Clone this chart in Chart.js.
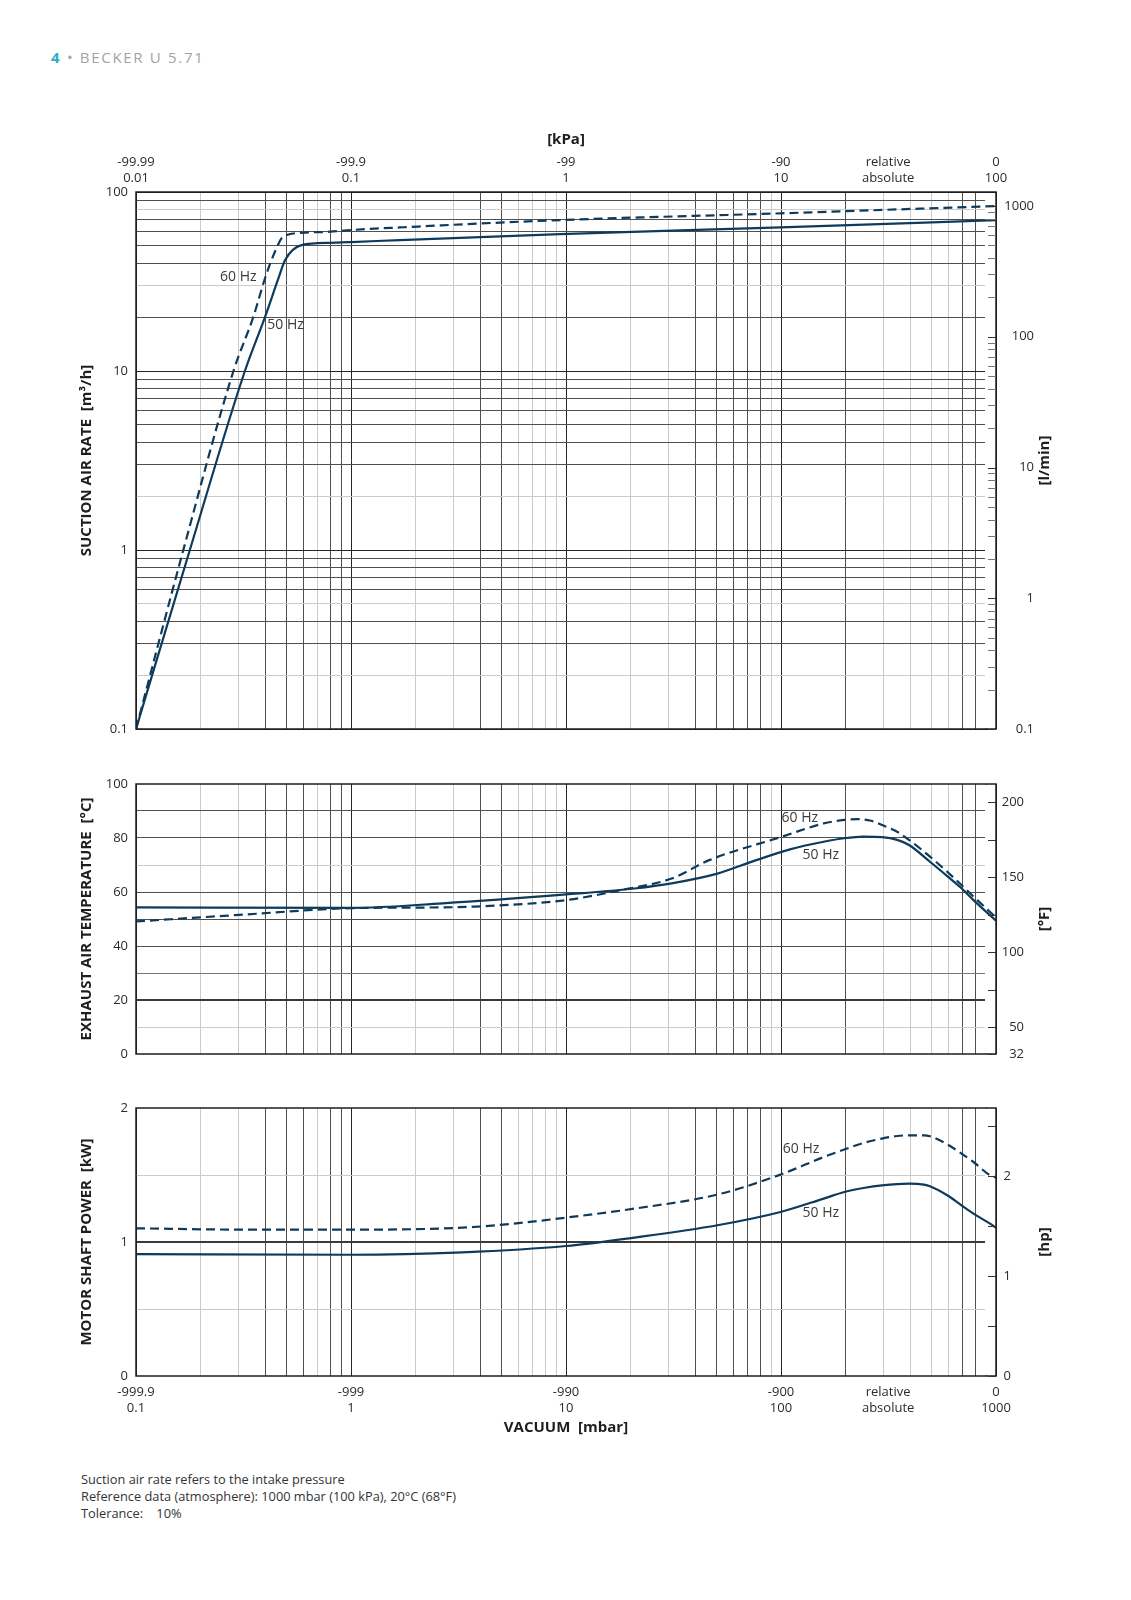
<!DOCTYPE html>
<html>
<head>
<meta charset="utf-8">
<script src="https://cdn.jsdelivr.net/npm/chart.js@4.4.1/dist/chart.umd.min.js"></script>
<style>
  body { margin: 0; background: #fff; width: 1131px; height: 1600px; position: relative; font-family: "Open Sans", sans-serif; }
  canvas { position: absolute; left: 0; }
  #header { position: absolute; left: 51px; top: 47px; font-size: 15px; letter-spacing: 1.7px; color: #a3a3a3; white-space: pre; }
  #header .page { color: #2aaec3; font-weight: bold; }
  #notes { position: absolute; left: 81px; top: 1471px; font-size: 12.8px; line-height: 17px; color: #333; }
</style>
</head>
<body>
<div id="header"><span class="page">4</span> • BECKER U 5.71</div>
<canvas id="flowChart" width="1131" height="645" style="top:100px"></canvas>
<canvas id="tempChart" width="1131" height="302" style="top:768px"></canvas>
<canvas id="powerChart" width="1131" height="356" style="top:1090px"></canvas>
<div id="notes">Suction air rate refers to the intake pressure<br>Reference data (atmosphere): 1000 mbar (100 kPa), 20°C (68°F)<br>Tolerance:&nbsp;&nbsp;&nbsp; 10%</div>
<script>
// x axis: absolute pressure in mbar, labelled positions
const pressureTicks = [0.1, 1, 10, 100, 315, 1000];
const vacuumLabels = [["-999.9", "0.1"], ["-999", "1"], ["-990", "10"], ["-900", "100"], ["relative", "absolute"], ["0", "1000"]];
const kpaLabels = [["-99.99", "0.01"], ["-99.9", "0.1"], ["-99", "1"], ["-90", "10"], ["relative", "absolute"], ["0", "100"]];

// suction air rate [m3/h]
const flowPressure50 = [0.1, 0.178, 0.321, 0.398, 0.46, 0.494, 0.589, 0.8, 1, 1.69, 9.4, 100, 1000];
const flow50 = [0.1, 1, 10, 20, 33, 41.7, 50.5, 52, 52.5, 53.9, 58.2, 63.4, 69.7];
const flowPressure60 = [0.1, 0.166, 0.284, 0.351, 0.4, 0.445, 0.483, 0.6, 0.8, 1, 1.69, 9.4, 100, 1000];
const flow60 = [0.1, 1, 10, 20, 33.5, 47, 56.2, 59.2, 60, 61.3, 63.4, 69.7, 76, 83.5];

// exhaust air temperature [°C]
const tempPressure50 = [0.1, 1, 2.67, 10, 20.8, 31, 50.6, 70.6, 110, 158, 197, 242, 295, 347, 394, 493, 593, 691, 786, 1000];
const temp50 = [54.3, 54.1, 55.8, 59.1, 61.3, 63.2, 66.8, 70.8, 75.8, 78.6, 79.9, 80.5, 80.3, 79.3, 77.4, 71.2, 65.9, 61.4, 57, 49.4];
const tempPressure60 = [0.1, 0.3, 1, 2.67, 3.76, 10, 18, 31, 46.7, 99.5, 158, 197, 226, 262, 295, 347, 394, 493, 593, 691, 786, 1000];
const temp60 = [49.1, 51.5, 54, 54.3, 54.6, 57, 60.7, 65, 71.9, 80.3, 85.4, 86.7, 87, 86.4, 84.8, 82.3, 79.3, 73.1, 67.5, 62.6, 58.3, 50.6];

// motor shaft power [kW]
const powerPressure50 = [0.1, 1, 3.3, 10, 20.8, 50.6, 99.5, 158, 197, 242, 295, 394, 463, 493, 593, 691, 786, 938, 1000];
const power50 = [0.91, 0.905, 0.923, 0.97, 1.033, 1.125, 1.224, 1.324, 1.373, 1.403, 1.423, 1.436, 1.428, 1.416, 1.349, 1.274, 1.212, 1.137, 1.107];
const powerPressure60 = [0.1, 0.34, 1, 3.3, 5.5, 10, 20.8, 50.6, 99.5, 158, 197, 242, 295, 347, 394, 463, 493, 593, 691, 786, 938, 1000];
const power60 = [1.102, 1.092, 1.092, 1.107, 1.135, 1.182, 1.249, 1.354, 1.503, 1.634, 1.69, 1.739, 1.772, 1.791, 1.796, 1.796, 1.789, 1.729, 1.66, 1.597, 1.498, 1.481];

// curve names: [text, pressure, value]
const flowNames = [["60 Hz", 0.246, 33.4], ["50 Hz", 0.408, 18]];
const tempNames = [["60 Hz", 100.6, 87.4], ["50 Hz", 126, 73.7]];
const powerNames = [["60 Hz", 102, 1.692], ["50 Hz", 126, 1.214]];

// secondary axes
const lpmMax = 1280;              // l/min scale as printed
const fahrenheitTicks = [32, 50, 75, 100, 125, 150, 175, 200];
const fahrenheitLabels = [32, 50, 100, 150, 200];
const hpMax = 2 / 0.7457;
const hpTicks = [0, 0.5, 1, 1.5, 2, 2.5];

const CURVE = "#0e3a5c";
const DECADE = "#262626";
const DARK = "#505050";
const LIGHT = "#cbcbcb";
const darkPressureLines = [0.4, 0.5, 0.6, 0.8, 0.9, 4, 5, 40, 50, 60, 70, 80, 200, 700, 800, 900];
const lightFlowLines = [0.2, 0.5, 2, 30, 80];

Chart.defaults.font.family = "'Open Sans', sans-serif";
Chart.defaults.color = "#2b2b2b";

function decadeValues(minExp, maxExp) {
  const out = [];
  for (let k = minExp; k < maxExp; k++) {
    for (let m = 1; m <= 9; m++) out.push(+(m + "e" + k));
  }
  out.push(+("1e" + maxExp));
  return out;
}

function isDecade(v) {
  const l = Math.log10(v);
  return Math.abs(l - Math.round(l)) < 1e-9;
}

function points(xs, ys) {
  return xs.map((x, i) => ({ x: x, y: ys[i] }));
}

const tickFont = { size: 13, lineHeight: "16px" };
const titleFont = { size: 15, weight: "bold" };

function pressureAxis(position, labels, height, padding, title) {
  const gridValues = decadeValues(-1, 3).concat([315]).sort((a, b) => a - b);
  return {
    type: "logarithmic",
    position: position,
    min: 0.1,
    max: 1000,
    afterBuildTicks: (scale) => {
      scale.ticks = gridValues.map((v) => ({ value: v }));
    },
    afterFit: (scale) => { scale.height = height; },
    border: { display: false },
    grid: {
      drawTicks: false,
      color: (ctx) => {
        const v = ctx.tick.value;
        if (v === 315) return "rgba(0,0,0,0)";
        if (isDecade(v)) return DECADE;
        return darkPressureLines.includes(v) ? DARK : LIGHT;
      },
    },
    ticks: {
      display: labels !== null,
      autoSkip: false,
      maxRotation: 0,
      minRotation: 0,
      padding: padding,
      font: tickFont,
      callback: (value) => {
        const i = pressureTicks.indexOf(value);
        return i >= 0 && labels ? labels[i] : "";
      },
    },
    title: title,
  };
}

function leftTitle(text) {
  return { display: true, text: text, font: titleFont, color: "#1e1e1e", padding: { top: 78, bottom: 0 } };
}

// right axis: labels are right-aligned on the scale's outer edge
function rightAxis(extra, width) {
  return Object.assign({
    position: "right",
    afterFit: (scale) => { scale.width = width; },
    border: { display: false },
    grid: { drawOnChartArea: false, drawTicks: false },
  }, extra);
}

function curveSets(p50, v50, p60, v60) {
  const base = { borderColor: CURVE, borderWidth: 2.2, pointRadius: 0, fill: false, cubicInterpolationMode: "monotone" };
  return [
    Object.assign({ label: "50 Hz", data: points(p50, v50) }, base),
    Object.assign({ label: "60 Hz", data: points(p60, v60), borderDash: [9, 5] }, base),
  ];
}

function panelDecor(names, rightTitle) {
  return {
    id: "panelDecor",
    beforeDatasetsDraw(chart) {
      // grid lines stop short of the right frame, leaving room for the inner ticks
      const { ctx, chartArea: a } = chart;
      ctx.save();
      ctx.fillStyle = "#fff";
      ctx.fillRect(a.right - 11, a.top + 1, 11, a.bottom - a.top - 2);
      ctx.restore();
    },
    afterDatasetsDraw(chart) {
      const { ctx, chartArea: a, scales } = chart;
      ctx.save();
      ctx.strokeStyle = "#1e1e1e";
      ctx.lineWidth = 1.5;
      ctx.strokeRect(a.left, a.top, a.right - a.left, a.bottom - a.top);

      const r = scales.y2;
      ctx.lineWidth = 1;
      r.ticks.forEach((t) => {
        const y = Math.round(r.getPixelForValue(t.value)) + 0.5;
        ctx.strokeStyle = r.type === "logarithmic" && !isDecade(t.value) ? "#777" : "#333";
        ctx.beginPath();
        ctx.moveTo(a.right - 8, y);
        ctx.lineTo(a.right, y);
        ctx.stroke();
      });

      ctx.font = "14px 'Open Sans', sans-serif";
      ctx.fillStyle = "#3c3c3c";
      ctx.textAlign = "left";
      ctx.textBaseline = "middle";
      names.forEach(([text, p, v]) => {
        ctx.fillText(text, scales.x.getPixelForValue(p), scales.y.getPixelForValue(v));
      });

      ctx.translate(1045, (a.top + a.bottom) / 2);
      ctx.rotate(-Math.PI / 2);
      ctx.font = "bold 15px 'Open Sans', sans-serif";
      ctx.textAlign = "center";
      ctx.fillStyle = "#1e1e1e";
      ctx.fillText(rightTitle, 0, 0);
      ctx.restore();
    },
  };
}

const common = {
  responsive: false,
  animation: false,
  devicePixelRatio: 1,
  plugins: { legend: { display: false }, tooltip: { enabled: false } },
};

// suction air rate
new Chart(document.getElementById("flowChart"), {
  type: "line",
  data: { datasets: curveSets(flowPressure50, flow50, flowPressure60, flow60) },
  options: Object.assign({}, common, {
    layout: { padding: { top: 0, bottom: 16, left: 0, right: 97 } },
    scales: {
      x: pressureAxis("top", kpaLabels, 92, 6, {
        display: true, text: "[kPa]", font: titleFont, color: "#1e1e1e", padding: { top: 31, bottom: 0 },
      }),
      y: {
        type: "logarithmic",
        position: "left",
        min: 0.1,
        max: 100,
        afterBuildTicks: (scale) => {
          scale.ticks = decadeValues(-1, 2).map((v) => ({ value: v }));
        },
        afterFit: (scale) => { scale.width = 136; },
        border: { display: false },
        grid: {
          drawTicks: false,
          color: (ctx) => {
            const v = ctx.tick.value;
            if (isDecade(v)) return DECADE;
            return lightFlowLines.includes(v) ? LIGHT : DARK;
          },
        },
        ticks: {
          autoSkip: false,
          padding: 8,
          font: tickFont,
          callback: (value) => (isDecade(value) ? String(value) : ""),
        },
        title: leftTitle("SUCTION AIR RATE  [m³/h]"),
      },
      y2: rightAxis({
        type: "logarithmic",
        min: 0.1,
        max: lpmMax,
        afterBuildTicks: (scale) => {
          scale.ticks = decadeValues(-1, 3).map((v) => ({ value: v }));
        },
        ticks: {
          autoSkip: false, padding: 8, crossAlign: "far", font: tickFont,
          callback: (value) => (isDecade(value) ? String(value) : ""),
        },
      }, 38),
    },
  }),
  plugins: [panelDecor(flowNames, "[l/min]")],
});

// exhaust air temperature
new Chart(document.getElementById("tempChart"), {
  type: "line",
  data: { datasets: curveSets(tempPressure50, temp50, tempPressure60, temp60) },
  options: Object.assign({}, common, {
    layout: { padding: { top: 16, bottom: 16, left: 0, right: 107 } },
    scales: {
      x: pressureAxis("bottom", null, 0, 0, { display: false }),
      y: {
        type: "linear",
        position: "left",
        min: 0,
        max: 100,
        afterFit: (scale) => { scale.width = 136; },
        border: { display: false },
        grid: {
          drawTicks: false,
          color: (ctx) => {
            const v = ctx.tick.value;
            if (v === 0 || v === 100) return "rgba(0,0,0,0)";
            if (v === 10 || v === 70) return LIGHT;
            if (v === 30) return "#777";
            return v === 20 ? "#3a3a3a" : DARK;
          },
          lineWidth: (ctx) => (ctx.tick.value === 20 ? 2 : 1),
        },
        ticks: {
          stepSize: 10,
          padding: 8,
          font: tickFont,
          callback: (value) => (value % 20 === 0 ? String(value) : ""),
        },
        title: leftTitle("EXHAUST AIR TEMPERATURE  [°C]"),
      },
      y2: rightAxis({
        type: "linear",
        min: 32,
        max: 212,
        afterBuildTicks: (scale) => {
          scale.ticks = fahrenheitTicks.map((v) => ({ value: v }));
        },
        ticks: {
          autoSkip: false, padding: 6, crossAlign: "far", font: tickFont,
          callback: (value) => (fahrenheitLabels.includes(value) ? String(value) : ""),
        },
      }, 28),
    },
  }),
  plugins: [panelDecor(tempNames, "[°F]")],
});

// motor shaft power
new Chart(document.getElementById("powerChart"), {
  type: "line",
  data: { datasets: curveSets(powerPressure50, power50, powerPressure60, power60) },
  options: Object.assign({}, common, {
    layout: { padding: { top: 18, bottom: 0, left: 0, right: 120 } },
    scales: {
      x: pressureAxis("bottom", vacuumLabels, 70, 8, {
        display: true, text: "VACUUM  [mbar]", font: titleFont, color: "#1e1e1e", padding: { top: 0, bottom: 9 },
      }),
      y: {
        type: "linear",
        position: "left",
        min: 0,
        max: 2,
        afterFit: (scale) => { scale.width = 136; },
        border: { display: false },
        grid: {
          drawTicks: false,
          color: (ctx) => {
            const v = ctx.tick.value;
            if (v === 0 || v === 2) return "rgba(0,0,0,0)";
            return v === 1 ? "#3a3a3a" : LIGHT;
          },
          lineWidth: (ctx) => (ctx.tick.value === 1 ? 2 : 1),
        },
        ticks: {
          stepSize: 0.5,
          padding: 8,
          font: tickFont,
          callback: (value) => (Number.isInteger(value) ? String(value) : ""),
        },
        title: leftTitle("MOTOR SHAFT POWER  [kW]"),
      },
      y2: rightAxis({
        type: "linear",
        min: 0,
        max: hpMax,
        afterBuildTicks: (scale) => {
          scale.ticks = hpTicks.map((v) => ({ value: v }));
        },
        ticks: {
          autoSkip: false, padding: 8, crossAlign: "far", font: tickFont,
          callback: (value) => (Number.isInteger(value) ? String(value) : ""),
        },
      }, 15),
    },
  }),
  plugins: [panelDecor(powerNames, "[hp]")],
});
</script>
</body>
</html>
